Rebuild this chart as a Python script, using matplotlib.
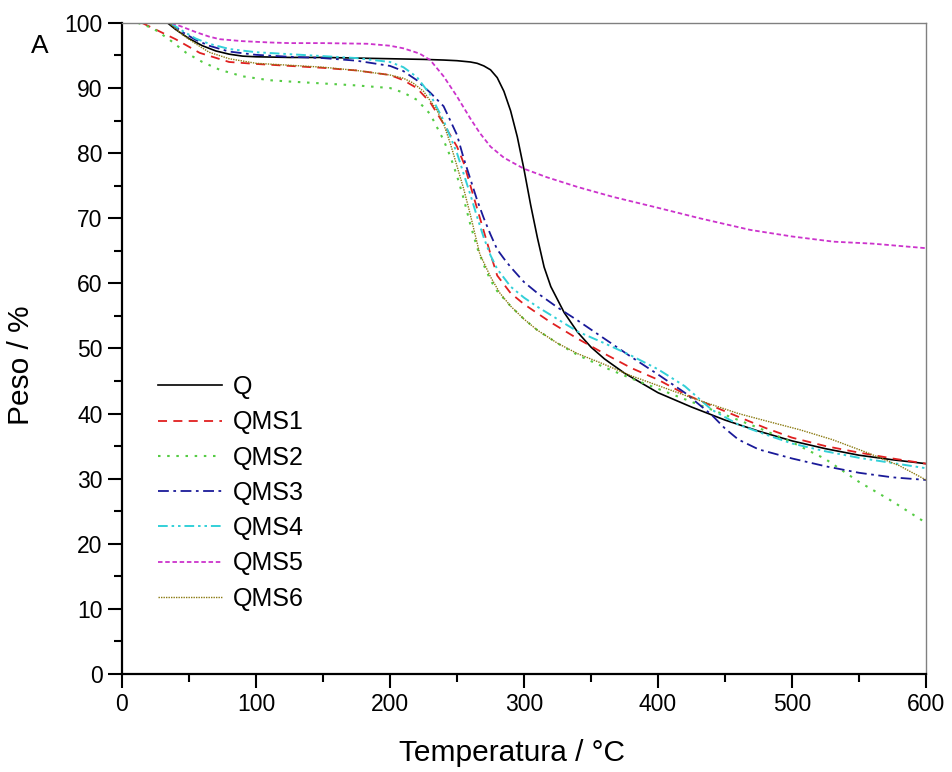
import matplotlib
matplotlib.use("Agg")
import matplotlib.pyplot as plt
from matplotlib.ticker import MultipleLocator

plt.rcParams['font.family'] = ['Liberation Sans', 'DejaVu Sans']

# TGA curves (temperature in °C, weight in %)
t_q = [34, 40, 50, 60, 70, 80, 90, 100, 125, 150, 175, 200, 225, 240, 250, 260, 265, 270,
       275, 280, 285, 290, 295, 300, 305, 310, 315, 320, 330, 340, 350, 360, 375, 400, 425,
       450, 475, 500, 525, 550, 575, 600]
w_q = [100, 99, 97.6, 96.5, 95.7, 95.2, 94.9, 94.8, 94.7, 94.7, 94.6, 94.5, 94.4, 94.3, 94.2,
       94.0, 93.8, 93.4, 92.8, 91.6, 89.5, 86.5, 82.5, 77.5, 72, 67, 62.5, 59.5, 55.5, 52.5,
       50.2, 48.4, 46.2, 43.2, 41, 39, 37.3, 35.8, 34.6, 33.6, 32.9, 32.3]

t_qms1 = [15, 25, 40, 58, 80, 100, 125, 150, 175, 200, 210, 220, 230, 240, 250, 255, 260, 265,
          270, 275, 280, 290, 300, 320, 340, 360, 380, 400, 420, 440, 460, 480, 500, 525, 550,
          575, 600]
w_qms1 = [100, 99, 97.5, 95.4, 94, 93.7, 93.4, 93.1, 92.7, 92, 91.2, 90, 87.8, 84.5, 81, 78.5,
          75, 71.5, 68, 64.5, 61.2, 58.5, 56.8, 54, 51.5, 49.2, 47, 45.2, 43, 41.2, 39.5, 37.8,
          36.3, 35, 34, 33.1, 32.3]

t_qms2 = [12, 23, 35, 48, 60, 73, 90, 110, 125, 150, 175, 200, 210, 220, 230, 240, 245, 250,
          255, 260, 265, 270, 275, 280, 290, 300, 310, 325, 340, 360, 380, 400, 425, 450, 475,
          500, 525, 550, 575, 600]
w_qms2 = [100, 99.2, 97.5, 95.4, 94, 92.8, 91.8, 91.2, 91.0, 90.7, 90.4, 90, 89.3, 88.2, 86,
          82, 79.5, 76.5, 73, 69, 65.5, 62.8, 60.5, 58.8, 56.5, 54.5, 52.8, 50.8, 49, 47.1,
          45.4, 43.8, 41.8, 39.8, 37.8, 35.6, 33, 29.5, 26.5, 23.2]

t_qms3 = [36, 45, 55, 65, 80, 100, 125, 150, 175, 200, 210, 220, 230, 240, 250, 255, 260, 265,
          270, 275, 280, 285, 290, 300, 310, 325, 340, 360, 380, 400, 420, 430, 440, 450, 460,
          475, 500, 525, 550, 575, 600]
w_qms3 = [100, 98.6, 97.4, 96.5, 95.6, 95.1, 94.8, 94.6, 94.2, 93.4, 92.6, 91.2, 89.3, 87.2,
          82.8, 79.2, 76, 72.8, 70, 67.5, 65.2, 63.8, 62.5, 60.2, 58.5, 56.3, 54.3, 51.5, 48.7,
          46, 43.2, 41.5, 39.8, 37.7, 36, 34.5, 33.1, 31.9, 30.9, 30.2, 29.8]

t_qms4 = [36, 45, 55, 65, 80, 100, 125, 150, 175, 200, 210, 220, 230, 240, 250, 255, 260, 265,
          270, 275, 280, 290, 300, 310, 325, 340, 360, 380, 400, 420, 440, 460, 480, 500, 525,
          550, 575, 600]
w_qms4 = [100, 98.8, 97.6, 96.8, 96, 95.5, 95.2, 94.9, 94.6, 94, 93.2, 91.7, 89, 85, 80, 76.8,
          73.6, 70.2, 67, 64.3, 62.2, 59.5, 57.8, 56.4, 54.5, 52.6, 50.8, 48.9, 46.8, 44.2, 40.6,
          38.3, 36.8, 35.4, 34.2, 33.2, 32.4, 31.6]

t_qms5 = [37, 45, 55, 65, 73, 90, 110, 125, 150, 183, 200, 210, 222, 230, 240, 250, 260, 267,
          275, 285, 292, 300, 317, 340, 366, 400, 431, 469, 500, 531, 560, 600]
w_qms5 = [100, 99.4, 98.6, 97.9, 97.5, 97.2, 97, 96.9, 96.9, 96.8, 96.5, 96.1, 95.3, 94.3, 91.8,
          88.7, 85.3, 83.1, 81, 79.3, 78.5, 77.6, 76.3, 74.8, 73.3, 71.6, 70, 68.2, 67.2, 66.4,
          66.1, 65.4]

t_qms6 = [35, 45, 55, 65, 80, 100, 125, 150, 175, 200, 210, 217, 225, 235, 240, 245, 250, 255,
          260, 267, 275, 282, 290, 300, 310, 325, 340, 357, 380, 400, 431, 460, 480, 506, 530,
          556, 580, 600]
w_qms6 = [100, 98.2, 96.8, 95.5, 94.5, 93.8, 93.5, 93.2, 92.7, 92, 91.5, 90.8, 89.5, 86.6,
          84.5, 81.5, 78, 74.5, 70.5, 64.5, 61, 58.5, 56.5, 54.5, 52.8, 50.8, 49.2, 47.8, 45.8,
          44.3, 42, 40, 38.9, 37.5, 36, 34, 32, 29.8]

labels = ['Q', 'QMS1', 'QMS2', 'QMS3', 'QMS4', 'QMS5', 'QMS6']

fig = plt.figure(figsize=(9.53, 7.72), dpi=100)
ax = fig.add_axes([0.128, 0.127, 0.8437, 0.8433])

ax.plot(t_q, w_q, color='black', lw=1.2, ls='-', label=labels[0])
ax.plot(t_qms1, w_qms1, color='#e02020', lw=1.3, ls=(0, (5, 3.5)), label=labels[1])
ax.plot(t_qms2, w_qms2, color='#55cc44', lw=1.5, ls=(0, (1.2, 3.2)), label=labels[2])
ax.plot(t_qms3, w_qms3, color='#1a1a99', lw=1.3, ls=(0, (6, 2.5, 1.5, 2.5)), label=labels[3])
ax.plot(t_qms4, w_qms4, color='#33d0d8', lw=1.4, ls=(0, (5, 2, 1.3, 2, 1.3, 2)), label=labels[4])
ax.plot(t_qms5, w_qms5, color='#cc33cc', lw=1.3, ls=(0, (2.5, 1.5)), label=labels[5])
ax.plot(t_qms6, w_qms6, color='#8a7a10', lw=1.0, ls=(0, (1, 0.8)), label=labels[6])

ax.set_xlim(0, 600)
ax.set_ylim(0, 100)
ax.xaxis.set_major_locator(MultipleLocator(100))
ax.xaxis.set_minor_locator(MultipleLocator(50))
ax.yaxis.set_major_locator(MultipleLocator(10))
ax.yaxis.set_minor_locator(MultipleLocator(5))
ax.tick_params(which='major', direction='out', length=10, width=1.5, labelsize=16.5, pad=4)
ax.tick_params(which='minor', direction='out', length=5.5, width=1.5)

for side in ['left', 'bottom']:
    ax.spines[side].set_linewidth(1.6)
    ax.spines[side].set_color('black')
for side in ['top', 'right']:
    ax.spines[side].set_linewidth(1.0)
    ax.spines[side].set_color('#808080')

ax.set_xlabel('Temperatura / °C', fontsize=21.5)
ax.set_ylabel('Peso / %', fontsize=21.5)
ax.xaxis.set_label_coords(0.4845, -0.1)
ax.yaxis.set_label_coords(-0.108, 0.475)

ax.legend(loc='center left', bbox_to_anchor=(0.045, 0.278), frameon=False, fontsize=18,
          handlelength=2.56, handletextpad=0.44, labelspacing=0.45, borderpad=0, borderaxespad=0)

fig.text(0.042, 0.94, 'A', fontsize=19, ha='center', va='center')

fig.savefig('out.png', dpi=100)
